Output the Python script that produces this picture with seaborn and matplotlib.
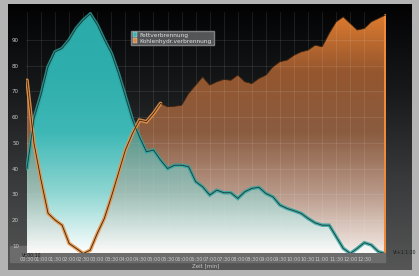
import numpy as np
import pandas as pd
import matplotlib
matplotlib.use("Agg")
import matplotlib.pyplot as plt
from matplotlib.colors import LinearSegmentedColormap
from matplotlib.patches import Patch, Rectangle
from matplotlib.path import Path
import seaborn as sns

# data: time in minutes, 15 s steps
minutes = [0.5 + 0.25 * i for i in range(52)]
fett = [40, 59.4, 68.5, 79.5, 85.3, 86.6, 89.9, 94.4, 97.6, 100.0,
        95.7, 89.9, 84.7, 76.9, 67.9, 58.8, 52.3, 46.5, 47.2, 43.3,
        40.0, 41.3, 41.3, 40.7, 34.9, 32.9, 29.7, 31.6, 30.6, 30.6,
        28.4, 31.0, 32.3, 32.7, 30.3, 29.0, 25.8, 24.5, 23.6, 22.6,
        20.6, 18.9, 18.0, 18.0, 13.5, 9.0, 7.0, 9.0, 11.2, 10.3,
        7.7, 7.0]
kohlenhydr = [74.3, 49.7, 35.5, 22.6, 20.0, 18.0, 10.9, 9.0, 7.0, 8.3,
              14.8, 20.6, 29.0, 38.1, 47.2, 53.6, 58.8, 58.2, 61.4, 65.3,
              64.0, 64.2, 64.6, 69.2, 72.4, 75.6, 72.4, 73.7, 74.6, 74.3,
              76.3, 73.7, 73.0, 75.0, 76.3, 79.5, 81.5, 82.1, 84.0, 85.3,
              86.0, 87.9, 87.3, 92.5, 97.0, 98.9, 96.3, 93.8, 94.4, 97.0,
              98.3, 99.6]
series_names = ["Fettverbrennung", "Kohlenhydr.verbrennung"]
tick_pos = [0.5 + 0.5 * i for i in range(25)]
tick_labels = ["%02d:%02d" % (int(p), 30 if p % 1 else 0) for p in tick_pos]
y_ticks = [10, 20, 30, 40, 50, 60, 70, 80, 90]

df = pd.DataFrame({"t": minutes * 2,
                   "value": fett + kohlenhydr,
                   "serie": [series_names[0]] * len(fett) + [series_names[1]] * len(kohlenhydr)})

sns.set_theme(style="dark")
plt.rcParams["font.family"] = ["DejaVu Sans"]

fig = plt.figure(figsize=(4.19, 2.76), dpi=100)
fig.patch.set_facecolor("#b4b4b4")

# dark panel behind the chart
bg = fig.add_axes([0.018, 0.02, 0.964, 0.965])
bg.set_zorder(-10)
grad = np.linspace(0, 1, 256).reshape(-1, 1)
bg_cmap = LinearSegmentedColormap.from_list("bg", ["#020203", "#17191b", "#383a3b", "#565656"])
bg.imshow(grad, aspect="auto", cmap=bg_cmap, extent=[0, 1, 0, 1], origin="upper")
# grey strip under the plot holding the time labels
bg.add_patch(Rectangle((0.005, 0.033), 0.93, 0.058, color="#6c6c6c", zorder=2))
bg.set_xlim(0, 1)
bg.set_ylim(0, 1)
bg.axis("off")

ax = fig.add_axes([26 / 419, 23 / 276, 360 / 419, 241 / 276])
ax.set_zorder(5)
ax.set_facecolor("none")
ymin, ymax = 7.2, 100.8
ax.set_xlim(0.465, 13.27)
ax.set_ylim(ymin, ymax)


def gradient_fill(ax, x, y1, y2, colors, alphas, z, where=None):
    poly = ax.fill_between(x, y1, y2, where=where, interpolate=True, color="none", lw=0, zorder=z)
    clip = Path.make_compound_path(*poly.get_paths())
    cmap = LinearSegmentedColormap.from_list("g", colors)
    v = np.linspace(1, 0, 256)
    rgba = cmap(v)
    rgba[:, 3] = np.interp(v, np.linspace(0, 1, len(alphas)), alphas)
    im = ax.imshow(rgba.reshape(-1, 1, 4), aspect="auto",
                   extent=[x[0], x[-1], ymin, ymax], origin="upper", zorder=z)
    im.set_clip_path(clip, transform=ax.transData)


teal_cols = ["#ffffff", "#8ed6d2", "#3eb8b6", "#2eaeac", "#2aaaa8"]
gradient_fill(ax, minutes, ymin, kohlenhydr,
              ["#f4ebe6", "#b89888", "#8a5c40", "#94562e", "#e07c2e"], [1, 1, 1, 1, 1], 2)
# Fett is opaque above the orange area and see-through where it lies in front of it
gradient_fill(ax, minutes, ymin, fett, teal_cols, [0.8, 0.6, 0.65, 0.7, 0.7], 3)
above = np.array(fett) > np.array(kohlenhydr)
gradient_fill(ax, minutes, kohlenhydr, fett, teal_cols, [1, 1, 1, 1, 1], 3, where=above)

# ribbons along the series edges
ax.plot(minutes, fett, color="#2ea4a0", lw=2.6, alpha=0.8, zorder=4, solid_joinstyle="miter")
ax.plot(minutes[:20], kohlenhydr[:20], color="#e8944a", lw=2.6, alpha=0.9, zorder=4,
        solid_joinstyle="miter")
sns.lineplot(data=df, x="t", y="value", hue="serie", ax=ax, legend=False,
             palette=["#123a38", "#3a2410"], lw=0.6, zorder=6)
ax.plot([minutes[-1], minutes[-1]], [ymin, kohlenhydr[-1]], color="#f08a3a", lw=2.2, zorder=5)

ax.set_xticks(tick_pos)
ax.set_xticklabels(tick_labels, fontsize=3.6, color="#c8c8c8")
ax.set_yticks(y_ticks)
ax.set_yticklabels([str(v) for v in y_ticks], fontsize=4, color="#c8c8c8")
ax.tick_params(axis="x", pad=3, length=0)
ax.tick_params(axis="y", pad=5, length=0)
ax.grid(True, color="#ffffff", alpha=0.13, lw=0.5)
ax.set_axisbelow(False)
for s in ax.spines.values():
    s.set_visible(False)
ax.set_xlabel("Zeit [min]", fontsize=4, color="#c8c8c8", labelpad=1)
ax.set_ylabel("")

ax.text(-0.012, -0.022, "Vt:00:10", transform=ax.transAxes, fontsize=3.3, color="#1a1a1a",
        ha="left", va="bottom", zorder=7)
ax.text(1.02, -0.01, "Vt+1:1:30", transform=ax.transAxes, fontsize=3.3, color="#1a1a1a",
        ha="left", va="bottom")

handles = [Patch(facecolor="#3ab4b0", edgecolor="#dddddd", lw=0.3),
           Patch(facecolor="#e08a40", edgecolor="#dddddd", lw=0.3)]
leg = ax.legend(handles, series_names, loc="upper left", bbox_to_anchor=(0.283, 0.935),
                fontsize=4.2, frameon=True, facecolor="#5c5e60", edgecolor="#8a8a8a",
                framealpha=0.9, handlelength=0.8, handleheight=0.8, borderpad=0.3,
                labelspacing=0.15, handletextpad=0.4, fancybox=False)
leg.set_zorder(10)
for txt in leg.get_texts():
    txt.set_color("#e0e0e0")

fig.savefig("out.png", dpi=100, facecolor=fig.get_facecolor())
